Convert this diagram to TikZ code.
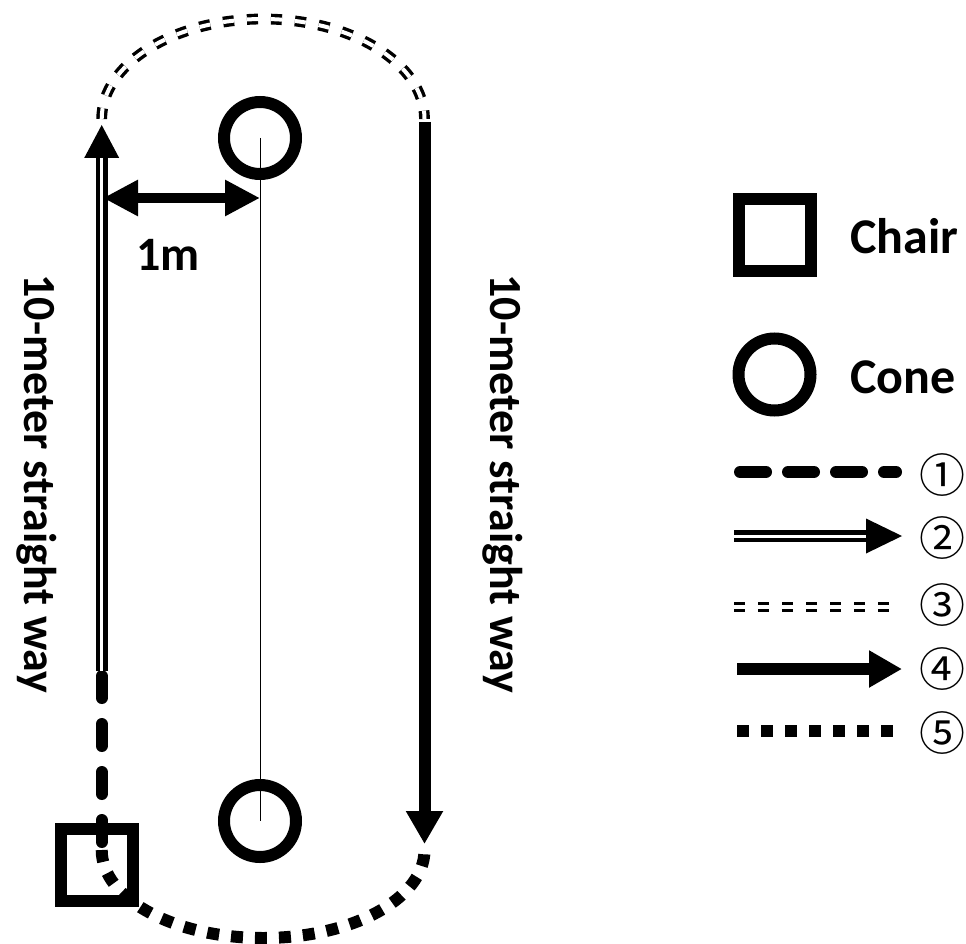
\documentclass[tikz,border=0pt]{standalone}
\usepackage{fontspec}
\setmainfont{Carlito}
\newfontfamily\circfont{Noto Sans CJK JP}
\usetikzlibrary{arrows.meta,calc}

\begin{document}
\begin{tikzpicture}[x=1pt,y=-1pt,
  bigtext/.style={font=\fontsize{46}{50}\selectfont\bfseries, inner sep=0pt},
  legtext/.style={font=\fontsize{50}{54}\selectfont\bfseries, inner sep=0pt},
  numtext/.style={font=\circfont\fontsize{46}{50}\selectfont, inner sep=0pt},
  pathone/.style={line width=12pt, line cap=round, dash pattern=on 22pt off 26pt},
  legone/.style={line width=12pt, line cap=round, dash pattern=on 26pt off 22pt},
  pathtwo/.style={double, double distance=3pt, line width=4.5pt},
  paththree/.style={double, double distance=4pt, line width=3.4pt, dash pattern=on 11pt off 13pt},
  pathfour/.style={line width=12pt, -{Triangle[length=33pt,width=35pt]}},
  pathfive/.style={line width=12pt, dash pattern=on 12pt off 12pt},
  chairbox/.style={draw, line width=12pt, minimum size=72pt, inner sep=0pt},
  conemark/.style={draw, circle, line width=12pt, minimum size=72pt, inner sep=0pt},
  measure/.style={line width=10pt,
    {Triangle[length=35pt,width=34pt]}-{Triangle[length=35pt,width=34pt]}}
]
\useasboundingbox (0,0) rectangle (966,944);

% course: chair and the two cones
\node[chairbox] (chair) at (97,865) {};
\node[conemark] (conetop) at (260,138) {};
\node[conemark] (conebot) at (260,821) {};
\draw[line width=1pt] (conetop.center) -- (conebot.center);

% way points of the walking course
\coordinate (startL) at (101.7,842);
\coordinate (joinL) at (101.7,676);
\coordinate (dblL) at (101.7,671);
\coordinate (baseL) at (101.7,157);
\coordinate (tipL) at (101.7,125);
\coordinate (arcL) at (101.7,119);
\coordinate (topR) at (424.5,122);
\coordinate (tipR) at (424.5,844);
\coordinate (arcB) at (101.7,850);

% 1: stand up from the chair
\draw[pathone] (startL) -- (joinL);
% 2: walk 10 m
\draw[pathtwo] (dblL) -- (baseL);
\fill (tipL) -- ($(tipL)+(-17.5,33)$) -- ($(tipL)+(17.5,33)$) -- cycle;
% 3: turn round the first cone
\draw[paththree] (arcL) arc[start angle=180, end angle=360, x radius=161.4, y radius=100];
% 4: walk back 10 m
\draw[pathfour] (topR) -- (tipR);
% 5: turn and sit down
\draw[pathfive] (arcB) arc[start angle=180, end angle=0, x radius=161.4, y radius=88];

% 1 m distance to the cone line
\coordinate (mL) at (103,198);
\coordinate (mR) at (260,198);
\draw[measure] (mL) -- (mR);
\node[bigtext, font=\fontsize{48}{52}\selectfont\bfseries, anchor=base west] (onem) at (136,270) {1m};

% side labels
\node[bigtext, rotate=-90] (leftlbl) at (37,484) {10-meter straight way};
\node[bigtext, rotate=-90] (rightlbl) at (503,484) {10-meter straight way};

% legend
\node[chairbox] (legchair) at (775,235) {};
\node[conemark] (legcone) at (774.5,374.5) {};
\node[legtext, anchor=base west] (chairlbl) at (850,253) {Chair};
\node[legtext, anchor=base west] (conelbl) at (850,393) {Cone};

\coordinate (l1a) at (740,472);  \coordinate (l1b) at (896,472);
\coordinate (l2a) at (734,536);  \coordinate (l2b) at (867,536);
\coordinate (l2t) at (902,536);
\coordinate (l3a) at (734,607);  \coordinate (l3b) at (890,607);
\coordinate (l4a) at (737,669);  \coordinate (l4b) at (902,669);
\coordinate (l5a) at (737,731);  \coordinate (l5b) at (893,731);

\draw[legone] (l1a) -- (l1b);
\draw[pathtwo] (l2a) -- (l2b);
\fill (l2t) -- ($(l2t)+(-36,-17.5)$) -- ($(l2t)+(-36,17.5)$) -- cycle;
\draw[paththree] (l3a) -- (l3b);
\draw[pathfour] (l4a) -- (l4b);
\draw[pathfive] (l5a) -- (l5b);

\node[numtext] (n1) at (942,475) {①};
\node[numtext] (n2) at (942,538) {②};
\node[numtext] (n3) at (942,605) {③};
\node[numtext] (n4) at (942,669) {④};
\node[numtext] (n5) at (942,733) {⑤};
\end{tikzpicture}
\end{document}
